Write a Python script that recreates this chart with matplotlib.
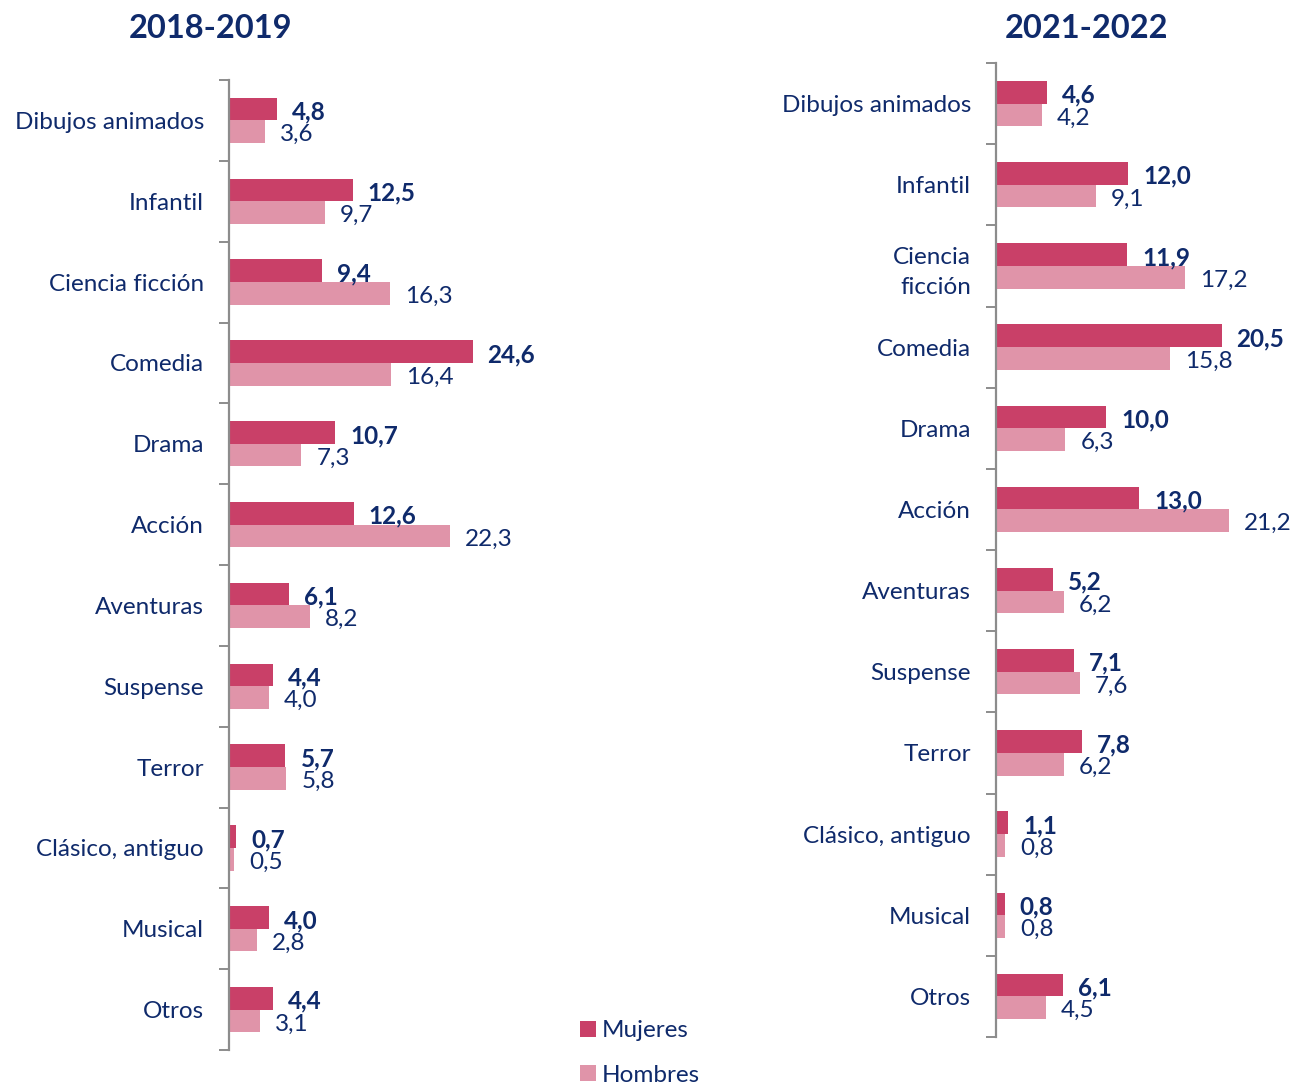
import matplotlib.pyplot as plt
import numpy as np

plt.rcParams['font.family'] = ['Lato', 'DejaVu Sans']

# Género de películas preferido, por sexo (%)
cats_1819 = ["Dibujos animados", "Infantil", "Ciencia ficción", "Comedia", "Drama",
             "Acción", "Aventuras", "Suspense", "Terror", "Clásico, antiguo",
             "Musical", "Otros"]
mujeres_1819 = [4.8, 12.5, 9.4, 24.6, 10.7, 12.6, 6.1, 4.4, 5.7, 0.7, 4.0, 4.4]
hombres_1819 = [3.6, 9.7, 16.3, 16.4, 7.3, 22.3, 8.2, 4.0, 5.8, 0.5, 2.8, 3.1]

cats_2122 = ["Dibujos animados", "Infantil", "Ciencia\nficción", "Comedia", "Drama",
             "Acción", "Aventuras", "Suspense", "Terror", "Clásico, antiguo",
             "Musical", "Otros"]
mujeres_2122 = [4.6, 12.0, 11.9, 20.5, 10.0, 13.0, 5.2, 7.1, 7.8, 1.1, 0.8, 6.1]
hombres_2122 = [4.2, 9.1, 17.2, 15.8, 6.3, 21.2, 6.2, 7.6, 6.2, 0.8, 0.8, 4.5]

C_MUJ = '#C94068'
C_HOM = '#E094A9'
NAVY = '#0F2A6B'
SPINE = '#8C8C8C'
FS = 17.5

W, H = 1296, 1085
fig = plt.figure(figsize=(W / 100, H / 100), dpi=100)


def fmt(v):
    return f"{v:.1f}".replace('.', ',')


def panel(rect, xmax, title, title_x, cats, muj, hom):
    ax = fig.add_axes(rect)
    n = len(cats)
    y = np.arange(n)
    h = 0.28
    ax.barh(y - h / 2, muj, height=h, color=C_MUJ, label='Mujeres')
    ax.barh(y + h / 2, hom, height=h, color=C_HOM, label='Hombres')
    ax.set_xlim(0, xmax)
    ax.set_ylim(n - 0.5, -0.5)

    # etiquetas de valor a la derecha de cada barra
    for i in range(n):
        ax.annotate(fmt(muj[i]), (muj[i], i - h / 2), xytext=(15, -3),
                    textcoords='offset pixels', va='center', ha='left',
                    fontsize=FS, fontweight='bold', color=NAVY)
        ax.annotate(fmt(hom[i]), (hom[i], i + h / 2), xytext=(15, -3),
                    textcoords='offset pixels', va='center', ha='left',
                    fontsize=FS, color=NAVY)

    for s in ['top', 'right', 'bottom']:
        ax.spines[s].set_visible(False)
    ax.spines['left'].set_color(SPINE)
    ax.spines['left'].set_linewidth(1.6)
    ax.set_xticks([])
    ax.set_yticks(y)
    ax.set_yticklabels(cats, fontsize=FS, color=NAVY, linespacing=1.55)
    ax.tick_params(axis='y', which='major', length=0, pad=18)
    # marcas entre categorías
    ax.set_yticks(np.arange(n + 1) - 0.5, minor=True)
    ax.tick_params(axis='y', which='minor', length=7, width=1.4, color=SPINE)

    fig.text(title_x / W, 1 - 28 / H, title, ha='center', va='center',
             fontsize=23.5, fontweight='bold', color=NAVY)
    return ax


ax1 = panel([229 / W, 1 - 1050 / H, 297 / W, 970 / H], 30,
            "2018-2019", 210, cats_1819, mujeres_1819, hombres_1819)
ax2 = panel([996 / W, 1 - 1037 / H, 275 / W, 974 / H], 25,
            "2021-2022", 1086, cats_2122, mujeres_2122, hombres_2122)

handles, labels = ax1.get_legend_handles_labels()
fig.legend(handles, labels, loc='center left',
           bbox_to_anchor=(580 / W, 1 - 1053 / H), frameon=False,
           fontsize=FS, labelcolor=NAVY, handlelength=0.66, handleheight=0.66,
           handletextpad=0.25, labelspacing=0.95, borderpad=0, borderaxespad=0)

fig.savefig('out.png', dpi=100)
